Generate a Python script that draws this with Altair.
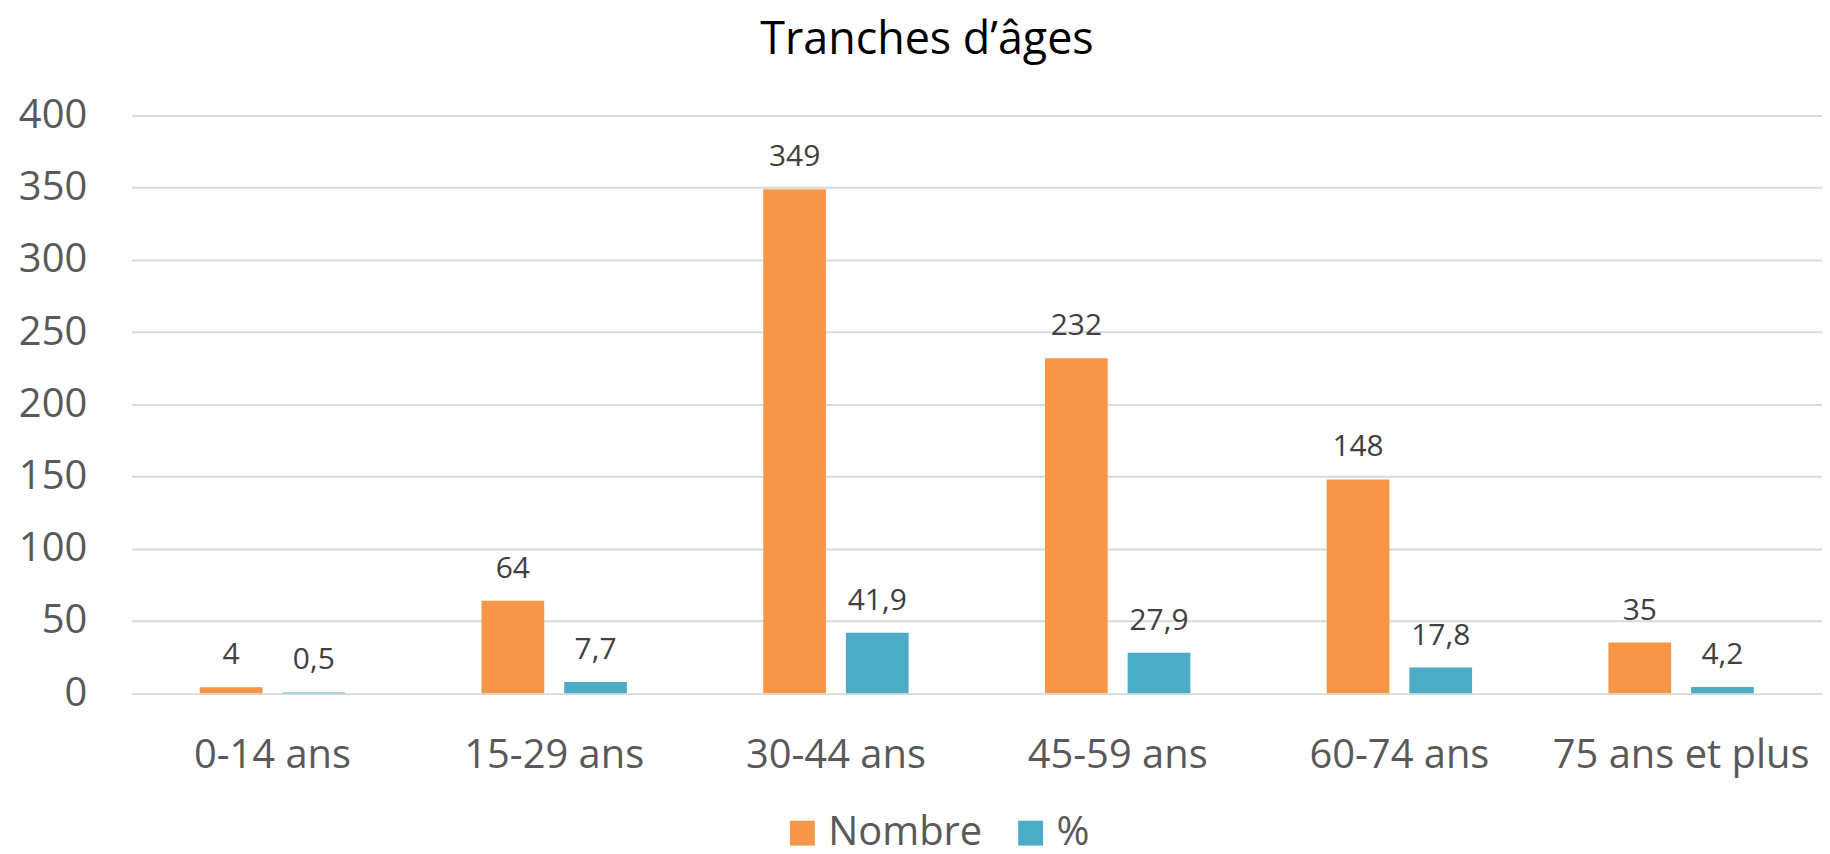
import altair as alt
import pandas as pd

categories = ["0-14 ans", "15-29 ans", "30-44 ans", "45-59 ans", "60-74 ans", "75 ans et plus"]
nombre = [4, 64, 349, 232, 148, 35]
pourcent = [0.5, 7.7, 41.9, 27.9, 17.8, 4.2]
series = ["Nombre", "%"]
colors = ["#F79646", "#4BACC6"]
y_ticks = [0, 50, 100, 150, 200, 250, 300, 350, 400]

rows = []
for c, n, p in zip(categories, nombre, pourcent):
    rows.append({"cat": c, "serie": "Nombre", "val": n, "label": str(n)})
    rows.append({"cat": c, "serie": "%", "val": p, "label": f"{p:.1f}".replace(".", ",")})
df = pd.DataFrame(rows)

FONT = "Open Sans"

base = alt.Chart(df).encode(
    x=alt.X("cat:N", sort=categories, title=None,
            scale=alt.Scale(paddingInner=0.484, paddingOuter=0.242),
            axis=alt.Axis(labelAngle=0, labelFontSize=40, labelColor="#595959",
                          labelPadding=43, ticks=False, domain=False, labelLimit=0,
                          labelFont=FONT, labelOverlap=False, labelFlush=False)),
    xOffset=alt.XOffset("serie:N", sort=series,
                        scale=alt.Scale(domain=series, paddingInner=0.241, paddingOuter=0)),
    y=alt.Y("val:Q", scale=alt.Scale(domain=[0, 400], nice=False),
            axis=alt.Axis(values=y_ticks, title=None, labelFontSize=40, labelColor="#595959",
                          labelPadding=45, ticks=False, domain=False, gridColor="#D9D9D9",
                          gridWidth=2, labelFont=FONT)),
)

bars = base.mark_bar().encode(
    color=alt.Color("serie:N", sort=series,
                    scale=alt.Scale(domain=series, range=colors),
                    legend=alt.Legend(title=None, orient="none", legendX=653, legendY=700,
                                      direction="horizontal", symbolType="square",
                                      symbolSize=625, labelFontSize=40, labelColor="#595959",
                                      labelFont=FONT, labelOffset=6, columnPadding=28,
                                      padding=0, symbolStrokeWidth=0, symbolOpacity=1))
)

labels = base.mark_text(dy=-23, baseline="alphabetic", fontSize=30, color="#404040",
                        font=FONT).encode(text="label:N")

chart = alt.layer(bars, labels).properties(
    width=1696,
    height=579.5,
    title=alt.Title("Tranches d’âges", fontSize=45, font=FONT, color="#000000",
                    fontWeight="normal", offset=33, anchor="middle", dx=-50),
    autosize=alt.AutoSizeParams(type="none"),
    padding={"left": 124, "top": 106.5, "right": 0, "bottom": 158},
).configure_view(stroke=None)

chart.save("out.html", embed_options={"renderer": "svg", "actions": False})
